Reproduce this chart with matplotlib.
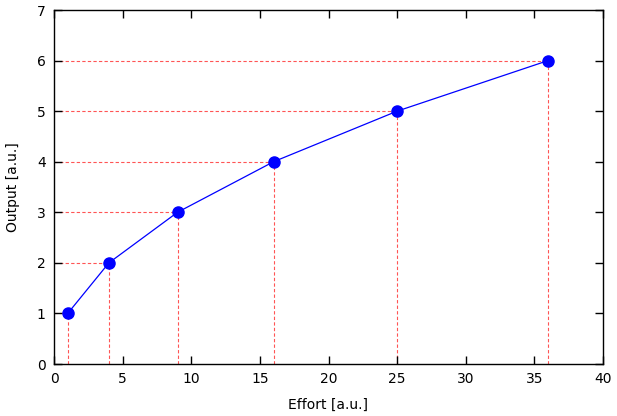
import matplotlib
matplotlib.use("Agg")
import matplotlib.pyplot as plt

effort = [1, 4, 9, 16, 25, 36]
output = [1, 2, 3, 4, 5, 6]
xticks = [0, 5, 10, 15, 20, 25, 30, 35, 40]
yticks = [0, 1, 2, 3, 4, 5, 6, 7]

fig = plt.figure(figsize=(6.17, 4.16), dpi=100)
ax = fig.add_axes([54/617, 1 - 364/416, (603-54)/617, (364-10)/416])

for x, y in zip(effort, output):
    ax.plot([x, x], [0, y], color='#ff5555', lw=0.8, ls=(0, (3, 2)), zorder=1)
    ax.plot([0, x], [y, y], color='#ff5555', lw=0.8, ls=(0, (3, 2)), zorder=1)

ax.plot(effort, output, color='blue', lw=0.9, marker='o', markersize=8,
        markerfacecolor='blue', markeredgecolor='blue', zorder=3)

ax.set_xlim(0, 40)
ax.set_ylim(0, 7)
ax.set_xticks(xticks)
ax.set_yticks(yticks)
ax.tick_params(direction='in', length=6, width=1, top=True, right=True, labelsize=10, pad=6)
for s in ax.spines.values():
    s.set_linewidth(1)
ax.set_xlabel('Effort [a.u.]', fontsize=10, labelpad=8)
ax.set_ylabel('Output [a.u.]', fontsize=10, labelpad=12)

fig.savefig('out.png', dpi=100)
